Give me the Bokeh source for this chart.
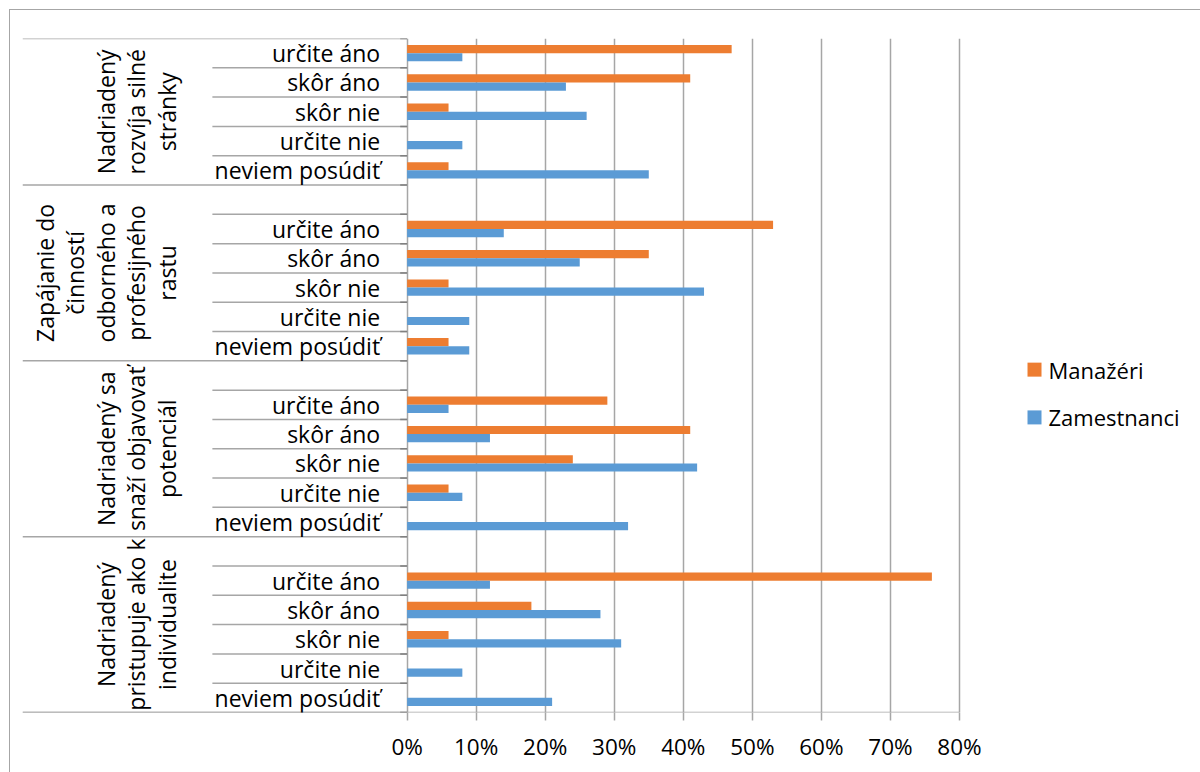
import math

from bokeh.core.properties import value
from bokeh.embed import file_html
from bokeh.models import (ColumnDataSource, FixedTicker, PrintfTickFormatter,
                          Range1d)
from bokeh.plotting import figure
from bokeh.resources import INLINE

# --- data -------------------------------------------------------------------
groups = [
    "Nadriadený\nrozvíja silné\nstránky",
    "Zapájanie do\nčinností\nodborného a\nprofesijného\nrastu",
    "Nadriadený sa\nsnaží objavovať\npotenciál",
    "Nadriadený\npristupuje ako k\nindividualite",
]
answers = ["určite áno", "skôr áno", "skôr nie", "určite nie", "neviem posúdiť"]
# groups 2-4 start with an empty category row
leading_blank = [False, True, True, True]

manazeri = [
    [47, 41, 6, 0, 6],
    [53, 35, 6, 0, 6],
    [29, 41, 24, 6, 0],
    [76, 18, 6, 0, 0],
]
zamestnanci = [
    [8, 23, 26, 8, 35],
    [14, 25, 43, 9, 9],
    [6, 12, 42, 8, 32],
    [12, 28, 31, 8, 21],
]
x_ticks = [0, 10, 20, 30, 40, 50, 60, 70, 80]
series_names = ["Manažéri", "Zamestnanci"]
series_colors = ["#ED7D31", "#5B9BD5"]

# --- row layout (row 0 at the top) -----------------------------------------
row_y, row_labels, m_vals, z_vals = [], [], [], []
group_bounds, sub_bounds, group_centers = [0], [], []
r = 0
for gi in range(len(groups)):
    start = r
    if leading_blank[gi]:
        r += 1
        sub_bounds.append(r)
    for ai, ans in enumerate(answers):
        row_y.append(r + 0.5)
        row_labels.append(ans)
        m_vals.append(manazeri[gi][ai])
        z_vals.append(zamestnanci[gi][ai])
        r += 1
        if ai < len(answers) - 1:
            sub_bounds.append(r)
    group_bounds.append(r)
    group_centers.append((start + r) / 2)
n_rows = r

FONT = "Open Sans"
GRAY = "#a6a6a6"
X_LEFT = -55.7      # left edge of the label table, in axis units
X_RIGHT = 114.9     # frame runs on to the right edge to hold the legend
X_MAX = x_ticks[-1]

p = figure(width=1190, height=762,
           x_range=Range1d(X_LEFT, X_RIGHT), y_range=Range1d(n_rows, 0),
           output_backend="svg", toolbar_location=None,
           y_axis_location=None, x_axis_location="below")
p.margin = (10, 0, 0, 10)
p.styles = {"outline": "1px solid #a6a6a6"}
p.min_border_left = 12
p.min_border_right = 0
p.min_border_top = 28
p.min_border_bottom = 60
p.outline_line_color = None
p.background_fill_color = "white"
p.border_fill_color = "white"

ax = p.xaxis[0]
ax.ticker = FixedTicker(ticks=x_ticks)
ax.formatter = PrintfTickFormatter(format="%d%%")
ax.axis_line_color = None
ax.major_tick_line_color = GRAY
ax.major_tick_line_width = 1.5
ax.major_tick_out = 8
ax.major_tick_in = 0
ax.minor_tick_line_color = None
ax.major_label_text_font = FONT
ax.major_label_text_font_size = "22.5px"
ax.major_label_text_color = "#000000"
ax.major_label_standoff = 10

p.xgrid.ticker = FixedTicker(ticks=x_ticks)
p.xgrid.grid_line_color = GRAY
p.xgrid.grid_line_width = 1.5
p.ygrid.visible = False

# value axis baseline, running under the label table as well
p.segment(x0=[X_LEFT], y0=[n_rows], x1=[X_MAX], y1=[n_rows],
          line_color=GRAY, line_width=1.5)

# table lines of the category axis
p.segment(x0=[X_LEFT] * len(group_bounds), y0=group_bounds,
          x1=[0] * len(group_bounds), y1=group_bounds,
          line_color=GRAY, line_width=1.5)
p.segment(x0=[-28.2] * len(sub_bounds), y0=sub_bounds,
          x1=[0] * len(sub_bounds), y1=sub_bounds,
          line_color=GRAY, line_width=1.5)
all_bounds = sorted(group_bounds + sub_bounds)
p.segment(x0=[-1.0] * len(all_bounds), y0=all_bounds,
          x1=[0] * len(all_bounds), y1=all_bounds,
          line_color="#808080", line_width=1.5)

# bars
src_m = ColumnDataSource(dict(y=[y - 0.14 for y in row_y], v=m_vals))
src_z = ColumnDataSource(dict(y=[y + 0.14 for y in row_y], v=z_vals))
p.hbar(y="y", left=0, right="v", height=0.28, source=src_m,
       fill_color=series_colors[0], line_color=None)
p.hbar(y="y", left=0, right="v", height=0.28, source=src_z,
       fill_color=series_colors[1], line_color=None)

# category labels
p.text(x=[0] * len(row_y), y=row_y, text=row_labels, x_offset=-27,
       text_align="right", text_baseline="middle",
       text_font=value(FONT), text_font_size="23px", text_color="#000000")
p.text(x=[-32.5] * len(groups), y=group_centers, text=groups,
       angle=math.pi / 2, text_align="center", text_baseline="bottom",
       text_line_height=0.95,
       text_font=value(FONT), text_font_size="23px", text_color="#000000")

# legend: square swatch + series name, stacked to the right of the bars
LEG_X = 90.86                 # swatch centre, axis units
LEG_Y = [11.3, 12.93]         # item centres, row units
p.rect(x=[LEG_X] * len(series_names), y=LEG_Y, width=14, height=14,
       width_units="screen", height_units="screen",
       fill_color=series_colors, line_color=None)
p.text(x=[LEG_X] * len(series_names), y=LEG_Y, text=series_names, x_offset=14,
       text_align="left", text_baseline="middle",
       text_font=value(FONT), text_font_size="22px", text_color="#000000")

open("out.html", "w").write(file_html(p, INLINE))
